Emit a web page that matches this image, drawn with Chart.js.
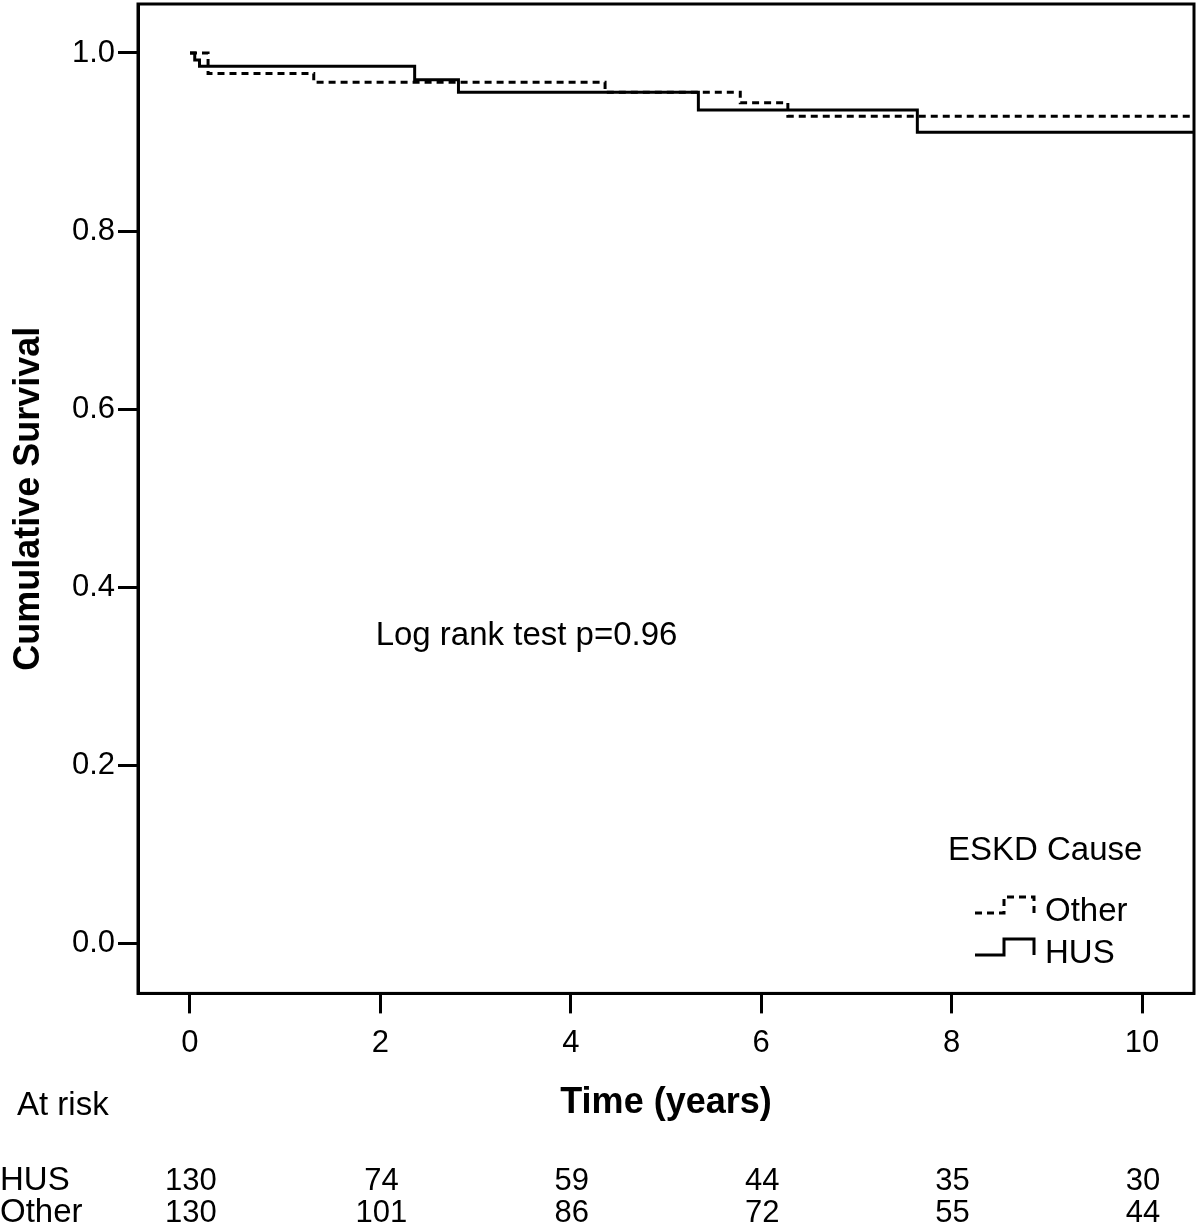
<!DOCTYPE html>
<html>
<head>
<meta charset="utf-8">
<script src="https://cdn.jsdelivr.net/npm/chart.js@4/dist/chart.umd.min.js"></script>
<style>
  html, body { margin: 0; padding: 0; background: #fff; }
  #wrap { width: 1200px; height: 1230px; }
</style>
</head>
<body>
<div id="wrap"><canvas id="km" width="1200" height="1230"></canvas></div>
<script>
// Kaplan-Meier steps (time in years, cumulative survival)
var husTimes = [0, 0.05, 0.1, 2.36, 2.82, 5.34, 7.64, 10.546];
var husSurv = [1.0, 0.992, 0.985, 0.970, 0.956, 0.936, 0.911, 0.911];
var otherTimes = [0, 0.19, 1.3, 4.36, 5.78, 6.28, 10.546];
var otherSurv = [1.0, 0.977, 0.967, 0.956, 0.944, 0.929, 0.929];

var xTicks = [0, 2, 4, 6, 8, 10];
var yTicks = [0.0, 0.2, 0.4, 0.6, 0.8, 1.0];

// numbers at risk
var riskTimes = [0, 2, 4, 6, 8, 10];
var riskHus = [130, 74, 59, 44, 35, 30];
var riskOther = [130, 101, 86, 72, 55, 44];

var FONT = 'Arial, "Liberation Sans", sans-serif';

function toPoints(xs, ys) {
	var pts = [];
	for (var i = 0; i < xs.length; i++) {
		pts.push({ x: xs[i], y: ys[i] });
	}
	return pts;
}

// frame, legend, annotation and at-risk table
var extras = {
	id: 'kmExtras',
	afterDraw: function (chart) {
		var ctx = chart.ctx;
		var a = chart.chartArea;
		var xs = chart.scales.x;
		var ys = chart.scales.y;
		ctx.save();

		ctx.strokeStyle = '#000';
		ctx.lineWidth = 3;
		ctx.strokeRect(a.left, a.top, a.right - a.left, a.bottom - a.top);

		ctx.fillStyle = '#000';
		ctx.textBaseline = 'middle';
		ctx.textAlign = 'left';
		ctx.font = '33px ' + FONT;
		ctx.fillText('Log rank test p=0.96', xs.getPixelForValue(1.95), ys.getPixelForValue(0.345));

		// legend
		ctx.fillText('ESKD Cause', 948, 851);
		var items = [
			{ label: 'Other', ds: chart.data.datasets[1], y: 912 },
			{ label: 'HUS', ds: chart.data.datasets[0], y: 954 }
		];
		items.forEach(function (it) {
			ctx.beginPath();
			ctx.setLineDash(it.ds.borderDash || []);
			ctx.lineWidth = 3;
			ctx.moveTo(975, it.y + 1);
			ctx.lineTo(1004, it.y + 1);
			ctx.lineTo(1004, it.y - 15);
			ctx.lineTo(1034, it.y - 15);
			ctx.lineTo(1034, it.y + 1);
			ctx.stroke();
			ctx.setLineDash([]);
			ctx.fillText(it.label, 1045, it.y);
		});

		// at risk table
		ctx.fillText('At risk', 17, 1106);
		ctx.fillText('HUS', 0, 1181);
		ctx.fillText('Other', 0, 1213);
		ctx.textAlign = 'center';
		ctx.font = '31px ' + FONT;
		for (var i = 0; i < riskTimes.length; i++) {
			var px = xs.getPixelForValue(riskTimes[i]) + 1;
			ctx.fillText(String(riskHus[i]), px, 1181);
			ctx.fillText(String(riskOther[i]), px, 1213);
		}
		ctx.restore();
	}
};

var chart = new Chart(document.getElementById('km'), {
	type: 'line',
	data: {
		datasets: [{
			label: 'HUS',
			data: toPoints(husTimes, husSurv),
			borderColor: '#000',
			borderWidth: 3,
			stepped: true,
			pointRadius: 0,
			fill: false
		}, {
			label: 'Other',
			data: toPoints(otherTimes, otherSurv),
			borderColor: '#000',
			borderWidth: 3,
			borderDash: [7, 5],
			stepped: true,
			pointRadius: 0,
			fill: false
		}]
	},
	options: {
		responsive: false,
		animation: false,
		layout: { padding: { left: 7, right: 6, top: 4, bottom: 105 } },
		plugins: {
			legend: { display: false },
			tooltip: { enabled: false }
		},
		scales: {
			x: {
				type: 'linear',
				min: -0.546,
				max: 10.546,
				afterBuildTicks: function (s) { s.ticks = xTicks.map(function (v) { return { value: v }; }); },
				afterFit: function (s) {
					s.height = 131.6;
					s.paddingLeft = 0;
					s.paddingRight = 0;
				},
				ticks: {
					color: '#000',
					font: { family: FONT, size: 31 },
					padding: 11,
					maxRotation: 0,
					callback: function (v) { return String(v); }
				},
				grid: { drawOnChartArea: false, drawTicks: true, tickLength: 20, tickWidth: 3, tickColor: '#000' },
				border: { display: true, color: '#000', width: 3 },
				title: {
					display: true,
					text: 'Time (years)',
					color: '#000',
					font: { family: FONT, size: 36, weight: 'bold' },
					padding: 0
				}
			},
			y: {
				type: 'linear',
				min: -0.056,
				max: 1.055,
				afterBuildTicks: function (s) { s.ticks = yTicks.map(function (v) { return { value: v }; }); },
				afterFit: function (s) {
					s.width = 131;
					s.paddingTop = 0;
					s.paddingBottom = 0;
				},
				ticks: {
					color: '#000',
					font: { family: FONT, size: 31 },
					padding: 3,
					callback: function (v) { return Number(v).toFixed(1); }
				},
				grid: { drawOnChartArea: false, drawTicks: true, tickLength: 20, tickWidth: 3, tickColor: '#000' },
				border: { display: true, color: '#000', width: 3 },
				title: {
					display: true,
					text: 'Cumulative Survival',
					color: '#000',
					font: { family: FONT, size: 36, weight: 'bold' },
					padding: 0
				}
			}
		}
	},
	plugins: [extras]
});
</script>
</body>
</html>
